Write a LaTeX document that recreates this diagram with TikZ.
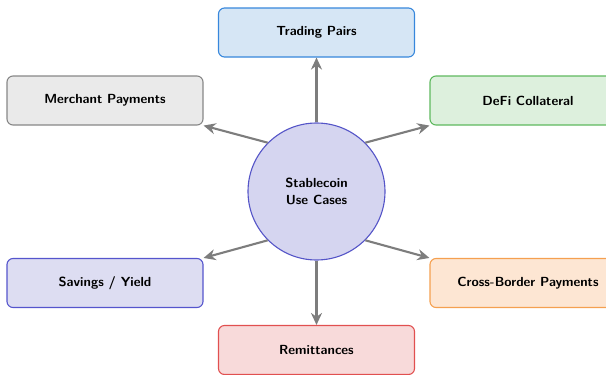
\documentclass[tikz,border=0pt]{standalone}
\usetikzlibrary{arrows.meta}

\definecolor{hubfill}{RGB}{213,213,240}
\definecolor{hubline}{RGB}{85,85,200}
\definecolor{tpfill}{RGB}{214,230,245}
\definecolor{tpline}{RGB}{55,135,220}
\definecolor{mpfill}{RGB}{234,234,234}
\definecolor{mpline}{RGB}{135,135,135}
\definecolor{dffill}{RGB}{221,240,221}
\definecolor{dfline}{RGB}{95,185,95}
\definecolor{svfill}{RGB}{221,221,242}
\definecolor{svline}{RGB}{85,85,205}
\definecolor{cbfill}{RGB}{253,230,211}
\definecolor{cbline}{RGB}{245,160,80}
\definecolor{rmfill}{RGB}{248,218,218}
\definecolor{rmline}{RGB}{225,80,80}
\definecolor{linkgray}{RGB}{125,125,125}

\tikzset{
  label font/.style={font=\sffamily\bfseries\fontsize{13.2}{17}\selectfont},
  usecase/.style={draw, rounded corners=6pt, minimum width=196pt,
    minimum height=49pt, line width=1.1pt, label font},
  hub/.style={circle, draw=hubline, fill=hubfill, line width=1.1pt,
    minimum size=137pt, align=center, label font},
  link/.style={draw=linkgray, line width=2.1pt,
    -{Stealth[length=12pt,width=11pt]}}
}

\begin{document}
\begin{tikzpicture}[x=1pt,y=-1pt]
  \useasboundingbox (0,0) rectangle (606,375);
  \clip (0,0) rectangle (606,375);

  % central topic
  \node[hub] (c) at (316.5,191.5) {Stablecoin\\Use Cases};

  % surrounding use cases
  \node[usecase, draw=tpline, fill=tpfill] (t) at (316.5,32.5) {Trading Pairs};
  \node[usecase, draw=mpline, fill=mpfill] (m) at (105,100.5) {Merchant Payments};
  \node[usecase, draw=dfline, fill=dffill] (d) at (528,100.5) {DeFi Collateral};
  \node[usecase, draw=svline, fill=svfill] (s) at (105,283) {Savings / Yield};
  \node[usecase, draw=cbline, fill=cbfill] (x) at (528,283) {Cross-Border Payments};
  \node[usecase, draw=rmline, fill=rmfill] (r) at (316.5,350) {Remittances};

  % connectors from the hub
  \draw[link] (c.north) -- (t.south);
  \draw[link] (c.135) -- (m.south east);
  \draw[link] (c.45) -- (d.south west);
  \draw[link] (c.-135) -- (s.north east);
  \draw[link] (c.-45) -- (x.north west);
  \draw[link] (c.south) -- (r.north);
\end{tikzpicture}
\end{document}
